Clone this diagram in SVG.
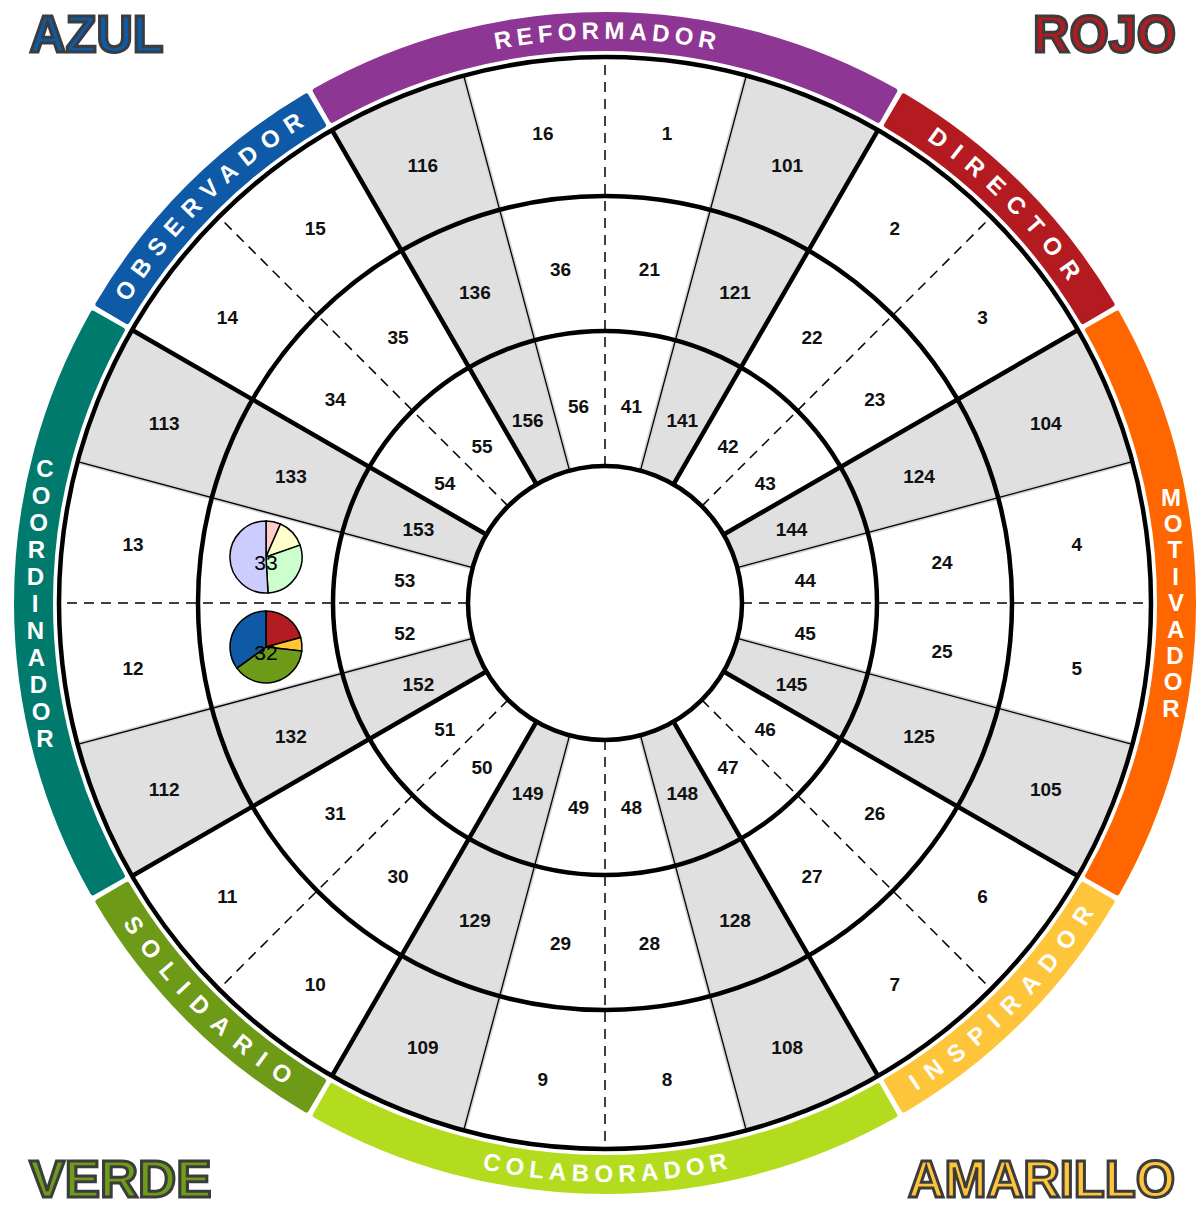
<svg xmlns="http://www.w3.org/2000/svg" width="1201" height="1208" viewBox="0 0 1201 1208">
<style>
.gray{fill:#e0e0e0}
.thick{stroke:#000;stroke-width:4.5;fill:none}
.thin{stroke:#000;stroke-width:1.3;fill:none}
.fringe{stroke:#d4d4d4;stroke-width:4.5;fill:none}
.dash{stroke:#000;stroke-width:1.5;stroke-dasharray:10 7;fill:none}
.ring{fill:none;stroke:#000;stroke-width:4.5}
.lbl{font-family:"Liberation Sans",Arial,sans-serif;font-weight:bold;font-size:19px;text-anchor:middle;fill:#111}
.band{stroke-width:5;stroke-linejoin:round}
.bt{font-family:"Liberation Sans",Arial,sans-serif;font-weight:bold;font-size:24px;fill:#fff}
.vt{font-family:"Liberation Sans",Arial,sans-serif;font-weight:bold;font-size:24px;fill:#fff;text-anchor:middle}
.corner{font-family:"Liberation Sans",Arial,sans-serif;font-weight:bold;font-size:51px;stroke:#3c3c3c;stroke-width:3}
.pie{stroke:#000;stroke-width:1.5}
.pl{font-family:"Liberation Sans",Arial,sans-serif;font-size:21px;text-anchor:middle;fill:#000}
</style>
<defs>
<path id="tpRef" d="M242.47,170.95 A564,564 0 0 1 967.53,170.95"/>
<path id="tpDir" d="M750.97,58.22 A564,564 0 0 1 1149.78,457.03"/>
<path id="tpObs" d="M60.22,457.03 A564,564 0 0 1 459.03,58.22"/>
<path id="tpCol" d="M232.83,1046.54 A579,579 0 0 0 977.17,1046.54"/>
<path id="tpSol" d="M60.92,801.03 A579,579 0 0 0 406.97,1147.08"/>
<path id="tpIns" d="M803.03,1147.08 A579,579 0 0 0 1149.08,801.03"/>
</defs>
<rect width="1201" height="1208" fill="#fff"/>

<g id="gray-wedges">
<path class="gray" d="M605,603 L746.31,75.60 A546,546 0 0 1 878,130.15 Z"/>
<path class="gray" d="M605,603 L1077.85,330 A546,546 0 0 1 1132.40,461.69 Z"/>
<path class="gray" d="M605,603 L1132.40,744.31 A546,546 0 0 1 1077.85,876 Z"/>
<path class="gray" d="M605,603 L878,1075.85 A546,546 0 0 1 746.31,1130.40 Z"/>
<path class="gray" d="M605,603 L463.69,1130.40 A546,546 0 0 1 332,1075.85 Z"/>
<path class="gray" d="M605,603 L132.15,876 A546,546 0 0 1 77.60,744.31 Z"/>
<path class="gray" d="M605,603 L77.60,461.69 A546,546 0 0 1 132.15,330 Z"/>
<path class="gray" d="M605,603 L332,130.15 A546,546 0 0 1 463.69,75.60 Z"/>
</g>

<g id="connectors">
<g id="thin-fringes" class="fringe">
<line x1="640.46" y1="470.67" x2="746.31" y2="75.60"/>
<line x1="737.33" y1="567.54" x2="1132.40" y2="461.69"/>
<line x1="737.33" y1="638.46" x2="1132.40" y2="744.31"/>
<line x1="640.46" y1="735.33" x2="746.31" y2="1130.40"/>
<line x1="569.54" y1="735.33" x2="463.69" y2="1130.40"/>
<line x1="472.67" y1="638.46" x2="77.60" y2="744.31"/>
<line x1="472.67" y1="567.54" x2="77.60" y2="461.69"/>
<line x1="569.54" y1="470.67" x2="463.69" y2="75.60"/>
</g>
<g id="thin-lines" class="thin">
<line x1="640.46" y1="470.67" x2="746.31" y2="75.60"/>
<line x1="737.33" y1="567.54" x2="1132.40" y2="461.69"/>
<line x1="737.33" y1="638.46" x2="1132.40" y2="744.31"/>
<line x1="640.46" y1="735.33" x2="746.31" y2="1130.40"/>
<line x1="569.54" y1="735.33" x2="463.69" y2="1130.40"/>
<line x1="472.67" y1="638.46" x2="77.60" y2="744.31"/>
<line x1="472.67" y1="567.54" x2="77.60" y2="461.69"/>
<line x1="569.54" y1="470.67" x2="463.69" y2="75.60"/>
</g>
<g id="dashed-lines" class="dash">
<line x1="605" y1="466" x2="605" y2="57"/>
<line x1="605" y1="740" x2="605" y2="1149"/>
<line x1="468" y1="603" x2="59" y2="603"/>
<line x1="742" y1="603" x2="1151" y2="603"/>
<line x1="701.87" y1="506.13" x2="991.08" y2="216.92"/>
<line x1="701.87" y1="699.87" x2="991.08" y2="989.08"/>
<line x1="508.13" y1="699.87" x2="218.92" y2="989.08"/>
<line x1="508.13" y1="506.13" x2="218.92" y2="216.92"/>
</g>
<g id="thick-lines" class="thick">
<line x1="673.5" y1="484.35" x2="878" y2="130.15"/>
<line x1="723.65" y1="534.5" x2="1077.85" y2="330"/>
<line x1="723.65" y1="671.5" x2="1077.85" y2="876"/>
<line x1="673.5" y1="721.65" x2="878" y2="1075.85"/>
<line x1="536.5" y1="721.65" x2="332" y2="1075.85"/>
<line x1="486.35" y1="671.5" x2="132.15" y2="876"/>
<line x1="486.35" y1="534.5" x2="132.15" y2="330"/>
<line x1="536.5" y1="484.35" x2="332" y2="130.15"/>
</g>
<g id="rings">
<circle class="ring" cx="605" cy="603" r="546"/>
<circle class="ring" cx="605" cy="603" r="407"/>
<circle class="ring" cx="605" cy="603" r="272"/>
<circle class="ring" cx="605" cy="603" r="137" style="fill:#fff"/>
</g>
</g>

<g id="outer-ring-labels" class="lbl">
<text x="667.1" y="140.4">1</text>
<text x="787.2" y="171.5">101</text>
<text x="894.8" y="234.7">2</text>
<text x="982.6" y="323.5">3</text>
<text x="1045.8" y="430.1">104</text>
<text x="1076.9" y="551.2">4</text>
<text x="1076.9" y="675.4">5</text>
<text x="1045.8" y="796.0">105</text>
<text x="982.6" y="903.1">6</text>
<text x="894.8" y="990.9">7</text>
<text x="787.2" y="1054.1">108</text>
<text x="667.1" y="1086.2">8</text>
<text x="542.9" y="1086.2">9</text>
<text x="422.8" y="1054.1">109</text>
<text x="315.2" y="990.9">10</text>
<text x="227.4" y="903.1">11</text>
<text x="164.2" y="796.0">112</text>
<text x="133.1" y="675.4">12</text>
<text x="133.1" y="551.2">13</text>
<text x="164.2" y="430.1">113</text>
<text x="227.4" y="323.5">14</text>
<text x="315.2" y="234.7">15</text>
<text x="422.8" y="171.5">116</text>
<text x="542.9" y="140.4">16</text>
</g>

<g id="middle-ring-labels" class="lbl">
<text x="649.4" y="276.2">21</text>
<text x="735.1" y="299.2">121</text>
<text x="812.0" y="343.6">22</text>
<text x="874.7" y="406.3">23</text>
<text x="919.1" y="483.2">124</text>
<text x="942.1" y="568.9">24</text>
<text x="942.1" y="657.7">25</text>
<text x="919.1" y="743.4">125</text>
<text x="874.7" y="820.3">26</text>
<text x="812.0" y="883.0">27</text>
<text x="735.1" y="927.4">128</text>
<text x="649.4" y="950.4">28</text>
<text x="560.6" y="950.4">29</text>
<text x="474.9" y="927.4">129</text>
<text x="398.0" y="883.0">30</text>
<text x="335.3" y="820.3">31</text>
<text x="290.9" y="743.4">132</text>
<text x="290.9" y="483.2">133</text>
<text x="335.3" y="406.3">34</text>
<text x="398.0" y="343.6">35</text>
<text x="474.9" y="299.2">136</text>
<text x="560.6" y="276.2">36</text>
</g>

<g id="inner-ring-labels" class="lbl">
<text x="631.4" y="413.0">41</text>
<text x="682.3" y="426.7">141</text>
<text x="728.0" y="453.0">42</text>
<text x="765.3" y="490.3">43</text>
<text x="791.6" y="536.0">144</text>
<text x="805.3" y="586.9">44</text>
<text x="805.3" y="639.7">45</text>
<text x="791.6" y="690.6">145</text>
<text x="765.3" y="736.3">46</text>
<text x="728.0" y="773.6">47</text>
<text x="682.3" y="799.9">148</text>
<text x="631.4" y="813.6">48</text>
<text x="578.6" y="813.6">49</text>
<text x="527.7" y="799.9">149</text>
<text x="482.0" y="773.6">50</text>
<text x="444.7" y="736.3">51</text>
<text x="418.4" y="690.6">152</text>
<text x="404.7" y="639.7">52</text>
<text x="404.7" y="586.9">53</text>
<text x="418.4" y="536.0">153</text>
<text x="444.7" y="490.3">54</text>
<text x="482.0" y="453.0">55</text>
<text x="527.7" y="426.7">156</text>
<text x="578.6" y="413.0">56</text>
</g>

<g id="pie-33">
<path class="pie" fill="#ffcccc" d="M266,557 L266,521 A36,36 0 0 1 280.47,524.03 Z"/>
<path class="pie" fill="#ffffcc" d="M266,557 L280.47,524.03 A36,36 0 0 1 299.98,545.10 Z"/>
<path class="pie" fill="#ccffcc" d="M266,557 L299.98,545.10 A36,36 0 0 1 268.01,592.94 Z"/>
<path class="pie" fill="#ccccff" d="M266,557 L268.01,592.94 A36,36 0 1 1 266,521 Z"/>
<text class="pl" x="266" y="570">33</text>
</g>
<g id="pie-32">
<path class="pie" fill="#b21b1f" d="M266,647 L266,611 A36,36 0 0 1 300.74,637.56 Z"/>
<path class="pie" fill="#ffc533" d="M266,647 L300.74,637.56 A36,36 0 0 1 301.77,651.08 Z"/>
<path class="pie" fill="#6e9b1a" d="M266,647 L301.77,651.08 A36,36 0 0 1 236.88,668.16 Z"/>
<path class="pie" fill="#0e5aa7" d="M266,647 L236.88,668.16 A36,36 0 0 1 266,611 Z"/>
<text class="pl" x="266" y="660">32</text>
</g>

<g id="seg-reformador">
<path class="band" fill="#8e3694" stroke="#8e3694" d="M315.20,90.79 A588.5,588.5 0 0 1 894.80,90.79 L878.05,120.39 A554.5,554.5 0 0 0 331.95,120.39 Z"/>
<text class="bt" letter-spacing="5"><textPath href="#tpRef" startOffset="396.2" text-anchor="middle">REFORMADOR</textPath></text>
</g>
<g id="seg-director">
<path class="band" fill="#b41b21" stroke="#b41b21" d="M903.69,95.93 A588.5,588.5 0 0 1 1112.07,304.31 L1082.77,321.57 A554.5,554.5 0 0 0 886.43,125.23 Z"/>
<text class="bt" letter-spacing="11"><textPath href="#tpDir" startOffset="300.8" text-anchor="middle">DIRECTOR</textPath></text>
</g>
<g id="seg-motivador">
<path class="band" fill="#ff6600" stroke="#ff6600" d="M1117.21,313.20 A588.5,588.5 0 0 1 1117.21,892.80 L1087.61,876.05 A554.5,554.5 0 0 0 1087.61,329.95 Z"/>
<text class="vt" x="1171 1173.2 1174.8 1175.7 1176 1175.7 1174.8 1173.2 1171" y="505.5 531.9 558.3 584.7 611.1 637.5 663.9 690.3 716.7">MOTIVADOR</text>
</g>
<g id="seg-inspirador">
<path class="band" fill="#ffc53a" stroke="#ffc53a" d="M1112.07,901.69 A588.5,588.5 0 0 1 903.69,1110.07 L886.43,1080.77 A554.5,554.5 0 0 0 1082.77,884.43 Z"/>
<text class="bt" letter-spacing="11.5"><textPath href="#tpIns" startOffset="259.4" text-anchor="middle">INSPIRADOR</textPath></text>
</g>
<g id="seg-colaborador">
<path class="band" fill="#b3dc1e" stroke="#b3dc1e" d="M894.80,1115.21 A588.5,588.5 0 0 1 315.20,1115.21 L331.95,1085.61 A554.5,554.5 0 0 0 878.05,1085.61 Z"/>
<text class="bt" letter-spacing="5.6"><textPath href="#tpCol" startOffset="407.0" text-anchor="middle">COLABORADOR</textPath></text>
</g>
<g id="seg-solidario">
<path class="band" fill="#6e9b17" stroke="#6e9b17" d="M306.31,1110.07 A588.5,588.5 0 0 1 97.93,901.69 L127.23,884.43 A554.5,554.5 0 0 0 323.57,1080.77 Z"/>
<text class="bt" letter-spacing="12.2"><textPath href="#tpSol" startOffset="258.8" text-anchor="middle">SOLIDARIO</textPath></text>
</g>
<g id="seg-coordinador">
<path class="band" fill="#007a6c" stroke="#007a6c" d="M92.79,892.80 A588.5,588.5 0 0 1 92.79,313.20 L122.39,329.95 A554.5,554.5 0 0 0 122.39,876.05 Z"/>
<text class="vt" x="45 41.2 38.5 36.5 35.4 35 35.4 36.5 38.5 41.2 45" y="476.5 503.5 530.5 557.5 584.5 611.5 638.5 665.5 692.5 719.5 746.5">COORDINADOR</text>
</g>
<g id="seg-observador">
<path class="band" fill="#0e5aa7" stroke="#0e5aa7" d="M97.93,304.31 A588.5,588.5 0 0 1 306.31,95.93 L323.57,125.23 A554.5,554.5 0 0 0 127.23,321.57 Z"/>
<text class="bt" letter-spacing="9.2"><textPath href="#tpObs" startOffset="299.9" text-anchor="middle">OBSERVADOR</textPath></text>
</g>

<g id="corner-labels">
<text class="corner" x="29.5" y="51.5" fill="#0e5aa7" textLength="134" lengthAdjust="spacingAndGlyphs">AZUL</text>
<text class="corner" x="1033" y="51.5" fill="#b41b21" textLength="143" lengthAdjust="spacingAndGlyphs">ROJO</text>
<text class="corner" x="29.5" y="1196.5" fill="#6e9b1a" textLength="182" lengthAdjust="spacingAndGlyphs">VERDE</text>
<text class="corner" x="908" y="1196.5" fill="#ffc53a" textLength="267" lengthAdjust="spacingAndGlyphs">AMARILLO</text>
</g>
</svg>
